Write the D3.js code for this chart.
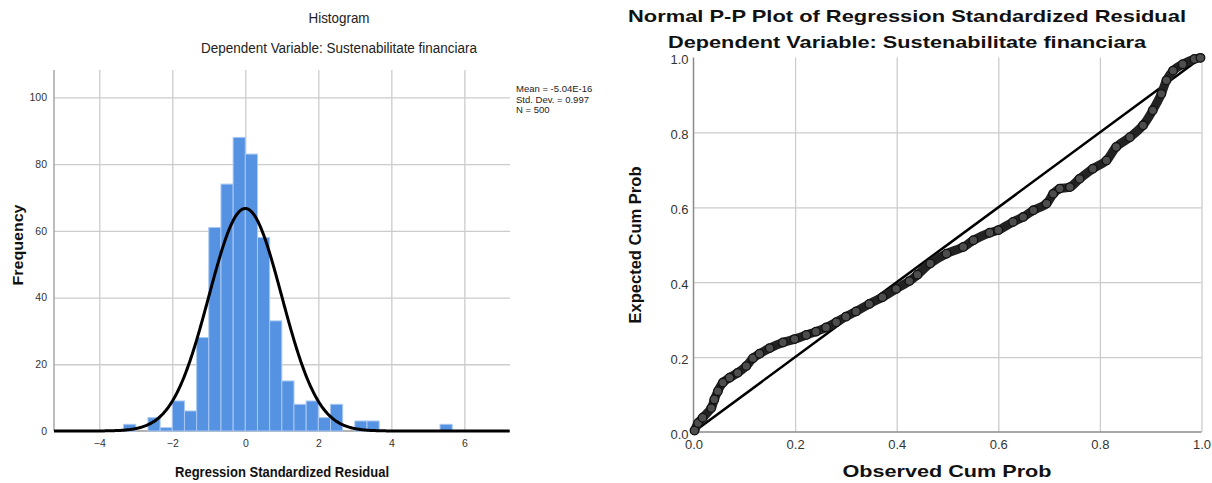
<!DOCTYPE html>
<html lang="en">
<head>
<meta charset="UTF-8">
<title>Histogram and Normal P-P Plot</title>
<script src="https://d3js.org/d3.v7.min.js"></script>
<style>
  body { margin: 0; background: #fff; }
  svg { display: block; }
  .narrow { font-family: "Liberation Sans Narrow", "Arial Narrow", "Liberation Sans", Arial, sans-serif; }
  .wide { font-family: "Liberation Sans", Arial, sans-serif; }
  .grid line { stroke: #cccccc; stroke-width: 1.3; }
  .grid path { display: none; }
  .ticks path, .ticks line { display: none; }
</style>
</head>
<body>
<svg id="chart" width="1212" height="483"></svg>
<script>
// Histogram: bins of width 1/3 starting at -10/3
const binWidth = 1 / 3;
const firstBinStart = -10 / 3;
const binCounts = [2, 0, 4, 1, 9, 6, 28, 61, 74, 88, 83, 58, 33, 15, 8, 9, 4, 8, 0, 3, 3, 0, 0, 0, 0, 0, 2];
const mean = -5.04e-16;
const stdDev = 0.997;
const nCases = 500;
const histXTicks = [-4, -2, 0, 2, 4, 6];
const histYTicks = [0, 20, 40, 60, 80, 100];
const legendLines = ["Mean = -5.04E-16", "Std. Dev. = 0.997", "N = 500"];

// Normal P-P plot
const observedCumProb = [0.002, 0.009, 0.018, 0.035, 0.041, 0.048, 0.058, 0.071, 0.087, 0.104, 0.117, 0.130,
  0.150, 0.176, 0.199, 0.222, 0.241, 0.261, 0.281, 0.300, 0.320, 0.346, 0.372, 0.399, 0.425, 0.441,
  0.466, 0.498, 0.531, 0.551, 0.583, 0.600, 0.629, 0.649, 0.669, 0.695, 0.708, 0.721, 0.741, 0.760,
  0.786, 0.813, 0.832, 0.859, 0.885, 0.904, 0.921, 0.931, 0.944, 0.963, 0.986, 0.998];
const expectedCumProb = [0.004, 0.024, 0.038, 0.064, 0.087, 0.109, 0.132, 0.145, 0.158, 0.176, 0.197, 0.209,
  0.224, 0.239, 0.248, 0.259, 0.268, 0.279, 0.293, 0.308, 0.322, 0.342, 0.360, 0.382, 0.403, 0.420,
  0.450, 0.476, 0.494, 0.512, 0.532, 0.539, 0.561, 0.574, 0.592, 0.610, 0.636, 0.650, 0.654, 0.676,
  0.703, 0.725, 0.761, 0.787, 0.819, 0.859, 0.903, 0.939, 0.965, 0.982, 0.996, 0.999];
const ppTicks = [0, 0.2, 0.4, 0.6, 0.8, 1.0];

const svg = d3.select("#chart");

// ---------- Histogram ----------
const hx = d3.scaleLinear().domain([-5.24, 7.25]).range([54, 510]);
const hy = d3.scaleLinear().domain([0, 108.2]).range([431, 70]);

const hist = svg.append("g");

hist.append("g").attr("class", "grid")
  .attr("transform", "translate(0,431)")
  .call(d3.axisBottom(hx).tickValues(histXTicks).tickSize(-361).tickFormat(""));
hist.append("g").attr("class", "grid")
  .attr("transform", "translate(54,0)")
  .call(d3.axisLeft(hy).tickValues(histYTicks.slice(1)).tickSize(-456).tickFormat(""));

hist.append("line").attr("x1", 54).attr("x2", 54).attr("y1", 70).attr("y2", 431)
  .attr("stroke", "#9a9a9a").attr("stroke-width", 1.3);
hist.append("line").attr("x1", 54).attr("x2", 510).attr("y1", 431).attr("y2", 431)
  .attr("stroke", "#9a9a9a").attr("stroke-width", 1.3);

const bins = binCounts.map((c, i) => ({ x0: firstBinStart + i * binWidth, x1: firstBinStart + (i + 1) * binWidth, count: c }))
  .filter(d => d.count > 0);

hist.selectAll("rect.bar").data(bins).enter().append("rect")
  .attr("class", "bar")
  .attr("x", d => hx(d.x0))
  .attr("width", d => hx(d.x1) - hx(d.x0))
  .attr("y", d => hy(d.count))
  .attr("height", d => hy(0) - hy(d.count))
  .attr("fill", "#5592e2")
  .attr("stroke", "#a9c8f2")
  .attr("stroke-width", 1);

// fitted normal curve from the reported mean / sd / N
const curveXs = d3.range(-5.24, 7.26, 0.02);
const normal = x => nCases * binWidth * Math.exp(-0.5 * ((x - mean) / stdDev) ** 2) / (stdDev * Math.sqrt(2 * Math.PI));
hist.append("path")
  .datum(curveXs)
  .attr("fill", "none")
  .attr("stroke", "#000")
  .attr("stroke-width", 3)
  .attr("d", d3.line().x(d => hx(d)).y(d => hy(normal(d))));

hist.append("g").attr("class", "ticks narrow")
  .attr("transform", "translate(0,431)")
  .call(d3.axisBottom(hx).tickValues(histXTicks).tickSize(0).tickPadding(9))
  .call(g => g.selectAll("text").attr("font-size", 10.5).attr("fill", "#333"));
hist.append("g").attr("class", "ticks narrow")
  .attr("transform", "translate(54,0)")
  .call(d3.axisLeft(hy).tickValues(histYTicks).tickSize(0).tickPadding(7))
  .call(g => g.selectAll("text").attr("font-size", 10.5).attr("fill", "#333"));
hist.selectAll(".ticks").attr("font-family", null);

hist.append("text").attr("class", "narrow")
  .attr("x", 339).attr("y", 23).attr("text-anchor", "middle")
  .attr("font-size", 14.5).attr("fill", "#222")
  .attr("textLength", 61).attr("lengthAdjust", "spacingAndGlyphs")
  .text("Histogram");
hist.append("text").attr("class", "narrow")
  .attr("x", 339).attr("y", 53).attr("text-anchor", "middle")
  .attr("font-size", 15.5).attr("fill", "#222")
  .attr("textLength", 276).attr("lengthAdjust", "spacingAndGlyphs")
  .text("Dependent Variable: Sustenabilitate financiara");

hist.selectAll("text.legend").data(legendLines).enter().append("text")
  .attr("class", "legend narrow")
  .attr("x", 516).attr("y", (d, i) => 92 + i * 10.5)
  .attr("font-size", 9.5).attr("fill", "#222")
  .text(d => d);

hist.append("text").attr("class", "narrow")
  .attr("x", 282).attr("y", 477).attr("text-anchor", "middle")
  .attr("font-size", 15).attr("font-weight", "bold").attr("fill", "#111")
  .attr("textLength", 214).attr("lengthAdjust", "spacingAndGlyphs")
  .text("Regression Standardized Residual");
hist.append("text").attr("class", "wide")
  .attr("transform", "translate(23,245) rotate(-90)").attr("text-anchor", "middle")
  .attr("font-size", 14).attr("font-weight", "bold").attr("fill", "#111")
  .attr("textLength", 81).attr("lengthAdjust", "spacingAndGlyphs")
  .text("Frequency");

// ---------- Normal P-P plot ----------
const px = d3.scaleLinear().domain([0, 1]).range([693.5, 1201.5]);
const py = d3.scaleLinear().domain([0, 1]).range([432, 57.5]);

const pp = svg.append("g");

pp.append("g").attr("class", "grid")
  .attr("transform", "translate(0,432)")
  .call(d3.axisBottom(px).tickValues(ppTicks.slice(1)).tickSize(-374.5).tickFormat(""));
pp.append("g").attr("class", "grid")
  .attr("transform", "translate(693.5,0)")
  .call(d3.axisLeft(py).tickValues(ppTicks.slice(1, 5)).tickSize(-508).tickFormat(""));

pp.append("line").attr("x1", 693.5).attr("x2", 693.5).attr("y1", 57.5).attr("y2", 432)
  .attr("stroke", "#8a8a8a").attr("stroke-width", 1.5);
pp.append("line").attr("x1", 693.5).attr("x2", 1201.5).attr("y1", 432).attr("y2", 432)
  .attr("stroke", "#8a8a8a").attr("stroke-width", 1.5);

// reference diagonal
pp.append("path")
  .datum([0, 1])
  .attr("fill", "none").attr("stroke", "#000").attr("stroke-width", 2.6)
  .attr("d", d3.line().x(d => px(d)).y(d => py(d)));

const ppPoints = observedCumProb.map((o, i) => ({ o, e: expectedCumProb[i] }));
pp.append("path")
  .datum(ppPoints)
  .attr("fill", "none").attr("stroke", "#222").attr("stroke-width", 9)
  .attr("stroke-linecap", "round").attr("stroke-linejoin", "round")
  .attr("d", d3.line().x(d => px(d.o)).y(d => py(d.e)).curve(d3.curveCatmullRom));
pp.selectAll("circle").data(ppPoints).enter().append("circle")
  .attr("cx", d => px(d.o)).attr("cy", d => py(d.e)).attr("r", 4.3)
  .attr("fill", "#4d4d4d").attr("stroke", "#111").attr("stroke-width", 1.3);

pp.append("g").attr("class", "ticks wide")
  .attr("transform", "translate(0,432)")
  .call(d3.axisBottom(px).tickValues(ppTicks).tickSize(0).tickPadding(8).tickFormat(d3.format(".1f")))
  .call(g => g.selectAll("text").attr("font-size", 13).attr("fill", "#333"));
pp.append("g").attr("class", "ticks wide")
  .attr("transform", "translate(693.5,2)")
  .call(d3.axisLeft(py).tickValues(ppTicks).tickSize(0).tickPadding(5).tickFormat(d3.format(".1f")))
  .call(g => g.selectAll("text").attr("font-size", 13).attr("fill", "#333"));
pp.selectAll(".ticks").attr("font-family", null);

pp.append("text").attr("class", "wide")
  .attr("x", 907).attr("y", 22).attr("text-anchor", "middle")
  .attr("font-size", 17).attr("font-weight", "bold").attr("fill", "#111")
  .attr("textLength", 558).attr("lengthAdjust", "spacingAndGlyphs")
  .text("Normal P-P Plot of Regression Standardized Residual");
pp.append("text").attr("class", "wide")
  .attr("x", 907).attr("y", 48).attr("text-anchor", "middle")
  .attr("font-size", 16.5).attr("font-weight", "bold").attr("fill", "#111")
  .attr("textLength", 478).attr("lengthAdjust", "spacingAndGlyphs")
  .text("Dependent Variable: Sustenabilitate financiara");
pp.append("text").attr("class", "wide")
  .attr("x", 947).attr("y", 477).attr("text-anchor", "middle")
  .attr("font-size", 17).attr("font-weight", "bold").attr("fill", "#111")
  .attr("textLength", 209).attr("lengthAdjust", "spacingAndGlyphs")
  .text("Observed Cum Prob");
pp.append("text").attr("class", "wide")
  .attr("transform", "translate(641,245) rotate(-90)").attr("text-anchor", "middle")
  .attr("font-size", 17).attr("font-weight", "bold").attr("fill", "#111")
  .attr("textLength", 157).attr("lengthAdjust", "spacingAndGlyphs")
  .text("Expected Cum Prob");
</script>
</body>
</html>
